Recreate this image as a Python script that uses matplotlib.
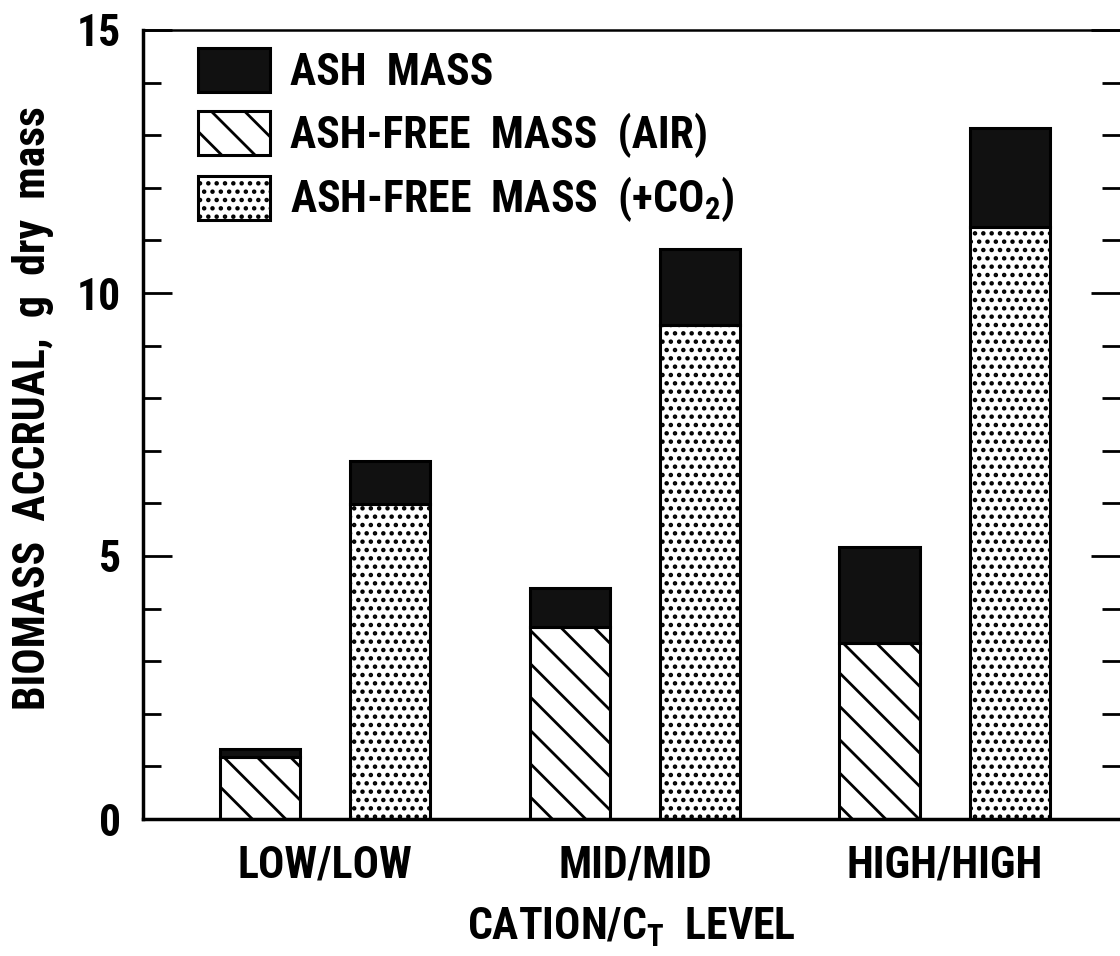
import numpy as np
import matplotlib
matplotlib.use('Agg')
import matplotlib.pyplot as plt
from matplotlib.patches import Patch

plt.rcParams['font.family'] = ['Roboto Condensed', 'DejaVu Sans']
plt.rcParams['font.weight'] = 'bold'
plt.rcParams['axes.labelweight'] = 'bold'
plt.rcParams['mathtext.fontset'] = 'custom'
plt.rcParams['mathtext.rm'] = 'Roboto Condensed:bold'
plt.rcParams['mathtext.default'] = 'rm'
plt.rcParams['hatch.linewidth'] = 2.0

# data
levels = ['LOW/LOW', 'MID/MID', 'HIGH/HIGH']
ashfree_air = [1.18, 3.65, 3.35]
total_air = [1.33, 4.39, 5.17]
ashfree_co2 = [5.99, 9.39, 11.25]
total_co2 = [6.81, 10.84, 13.14]

ash_air = np.array(total_air) - np.array(ashfree_air)
ash_co2 = np.array(total_co2) - np.array(ashfree_co2)

FS = 31.5

fig = plt.figure(figsize=(11.2, 9.56), dpi=100)
ax = fig.add_axes([143 / 1120, 1 - 819 / 956, 1 - 143 / 1120, (819 - 30) / 956])

x = np.arange(len(levels))
w = 0.26
off = 0.21
lw = 2.2

ax.bar(x - off, ashfree_air, w, color='white', edgecolor='black', hatch='\\', linewidth=lw)
ax.bar(x - off, ash_air, w, bottom=ashfree_air, color='#111111', edgecolor='black', linewidth=lw)
ax.bar(x + off, ashfree_co2, w, color='white', edgecolor='black', hatch='..', linewidth=lw)
ax.bar(x + off, ash_co2, w, bottom=ashfree_co2, color='#111111', edgecolor='black', linewidth=lw)

ax.set_xlim(-0.587, 2.565)
ax.set_ylim(0, 15)

# legend
handles = [Patch(facecolor='#111111', edgecolor='black', linewidth=lw),
           Patch(facecolor='white', edgecolor='black', hatch='\\', linewidth=lw),
           Patch(facecolor='white', edgecolor='black', hatch='..', linewidth=lw)]
labels = ['ASH  MASS', 'ASH-FREE  MASS  (AIR)', 'ASH-FREE  MASS  (+CO$_2$)']
ax.legend(handles, labels, loc='upper left', bbox_to_anchor=(55 / 977, 1 - 18 / 789),
          frameon=False, fontsize=FS, handlelength=1.65, handleheight=1.17,
          handletextpad=0.45, labelspacing=0.39, borderpad=0, borderaxespad=0)

# ticks
ax.set_xticks(x)
ax.set_xticklabels(levels, fontsize=FS)
ax.tick_params(axis='x', length=0, pad=18)
ax.set_yticks([0, 5, 10, 15])
ax.set_yticks(np.arange(0, 16, 1), minor=True)
ax.tick_params(axis='y', which='major', direction='in', length=21, width=2,
               labelsize=FS, pad=16, right=True)
ax.tick_params(axis='y', which='minor', direction='in', length=13, width=2, right=True)

for s in ['left', 'bottom']:
    ax.spines[s].set_linewidth(2.5)
ax.spines['top'].set_linewidth(1.8)
ax.spines['right'].set_visible(False)

ax.set_xlabel('CATION/C$_\\mathrm{T}$  LEVEL', fontsize=FS, labelpad=14)
ax.set_ylabel('BIOMASS  ACCRUAL,  g  dry  mass', fontsize=FS)
ax.yaxis.set_label_coords(-0.091, 0.521)

fig.savefig('out.png', dpi=100, facecolor='white')
